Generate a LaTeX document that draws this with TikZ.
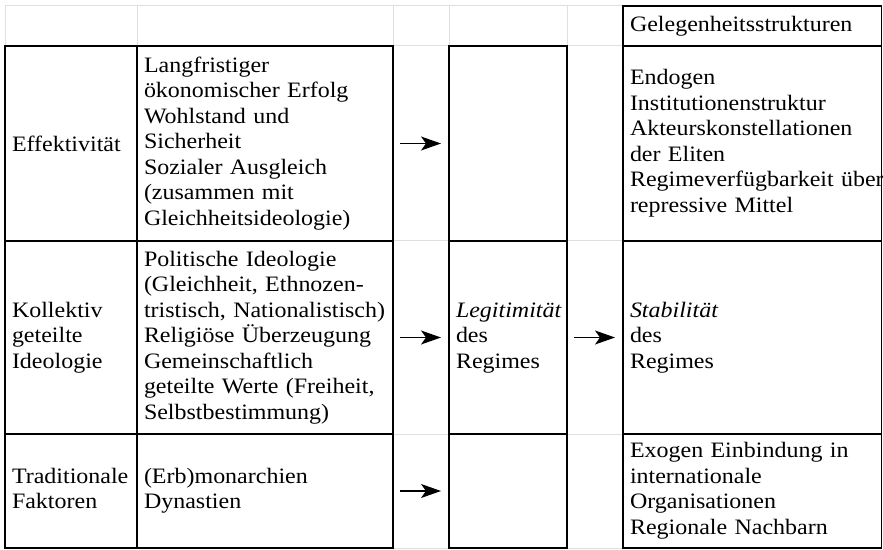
\documentclass[tikz,border=0pt]{standalone}
\usepackage{fontspec}
\setmainfont[FakeStretch=1.09]{Liberation Serif}
\usetikzlibrary{arrows.meta}

% lines of a cell, never broken
\newcommand{\zeilen}[1]{\begin{tabular}{@{}l@{}}#1\end{tabular}}

\tikzstyle{cell} = [rectangle, draw, line width=0.7pt, anchor=north west,
    inner xsep=3.5pt, inner ysep=0pt, outer sep=0pt, align=left,
    font=\fontsize{11}{12.75}\selectfont]
\tikzstyle{grid} = [gray!25, line width=0.5pt]
\tikzstyle{pfeil} = [-{Stealth[length=10pt, width=7pt, inset=2.5pt]}, line width=0.6pt,
    shorten <=3.5pt, shorten >=4pt]

\begin{document}
\begin{tikzpicture}[x=0.5pt, y=-0.5pt]
    \useasboundingbox (0,0) rectangle (883,550);

    % faint table grid
    \foreach \y in {6,46,241,434,548}
        \draw[grid] (5,\y) -- (623,\y);
    \foreach \x in {5,137,393,449,567,623}
        \draw[grid] (\x,6) -- (\x,548);

    % Place nodes
    \node [cell, text width=59pt, minimum height=97.5pt] (eff) at (5,46) {Effektivität};
    \node [cell, text width=121pt, minimum height=97.5pt] (effinhalt) at (137,46)
        {\zeilen{Langfristiger\\ökonomischer Erfolg\\Wohlstand und\\Sicherheit\\Sozialer Ausgleich\\(zusammen mit\\Gleichheitsideologie)}};
    \node [cell, text width=59pt, minimum height=96.5pt] (ideo) at (5,241)
        {\zeilen{Kollektiv\\geteilte\\Ideologie}};
    \node [cell, text width=121pt, minimum height=96.5pt] (ideoinhalt) at (137,241)
        {\zeilen{Politische Ideologie\\(Gleichheit, Ethnozen-\\tristisch, Nationalistisch)\\Religiöse Überzeugung\\Gemeinschaftlich\\geteilte Werte (Freiheit,\\Selbstbestimmung)}};
    \node [cell, text width=59pt, minimum height=57pt] (trad) at (5,434)
        {\zeilen{Traditionale\\Faktoren}};
    \node [cell, text width=121pt, minimum height=57pt] (tradinhalt) at (137,434)
        {\zeilen{(Erb)monarchien\\Dynastien}};

    \node [cell, text width=52pt, minimum height=97.5pt] (legit1) at (449,46) {};
    \node [cell, text width=52pt, minimum height=96.5pt] (legit2) at (449,241)
        {\zeilen{\textit{Legitimität}\\des\\Regimes}};
    \node [cell, text width=52pt, minimum height=57pt] (legit3) at (449,434) {};

    \node [cell, text width=122.25pt, minimum height=20pt] (gelegen) at (623,6)
        {Gelegenheitsstrukturen};
    \node [cell, text width=122.25pt, minimum height=97.5pt] (endogen) at (623,46)
        {\zeilen{Endogen\\Institutionenstruktur\\Akteurskonstellationen\\der Eliten\\Regimeverfügbarkeit über\\repressive Mittel}};
    \node [cell, text width=122.25pt, minimum height=96.5pt] (stab) at (623,241)
        {\zeilen{\textit{Stabilität}\\des\\Regimes}};
    \node [cell, text width=122.25pt, minimum height=57pt] (exogen) at (623,434)
        {\zeilen{Exogen Einbindung in\\internationale\\Organisationen\\Regionale Nachbarn}};

    % arrows
    \draw[pfeil] (effinhalt.east) -- (legit1.west);
    \draw[pfeil] (ideoinhalt.east) -- (legit2.west);
    \draw[pfeil] (tradinhalt.east) -- (legit3.west);
    \draw[pfeil] (legit2.east) -- (stab.west);

\end{tikzpicture}
\end{document}
